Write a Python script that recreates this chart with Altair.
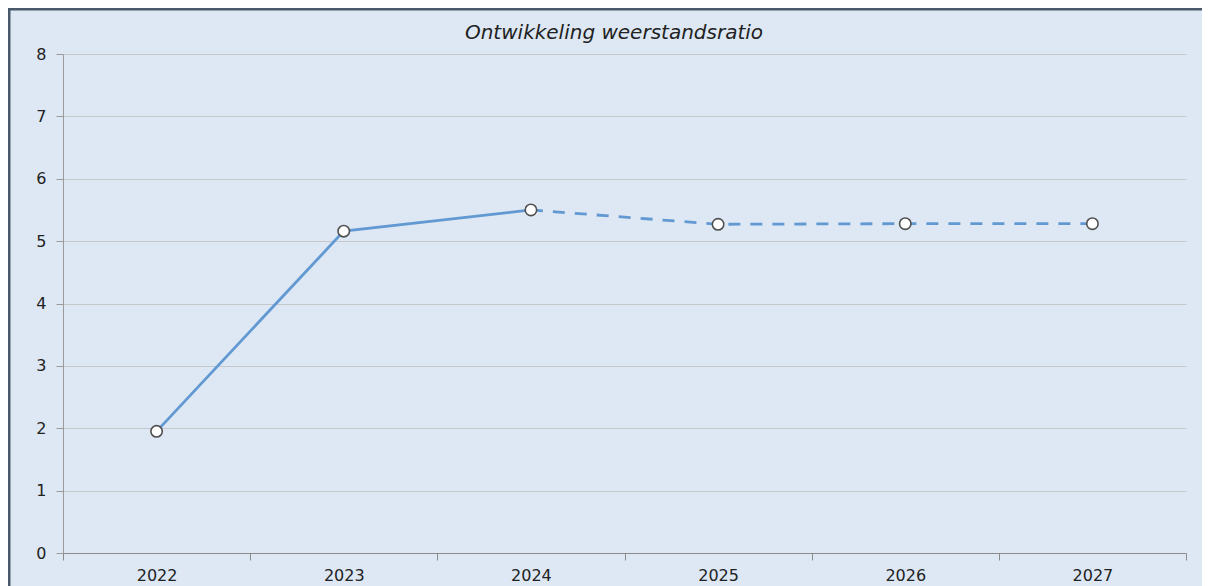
import altair as alt
import pandas as pd

years = ["2022", "2023", "2024", "2025", "2026", "2027"]
values = [1.95, 5.16, 5.50, 5.27, 5.28, 5.28]
actual_years = ["2022", "2023", "2024"]
forecast_years = ["2024", "2025", "2026", "2027"]
title_text = ["Ontwikkeling weerstandsratio"]

df = pd.DataFrame({"jaar": years, "ratio": values})
df_actual = df[df["jaar"].isin(actual_years)]
df_forecast = df[df["jaar"].isin(forecast_years)]
df_title = pd.DataFrame({"t": title_text})

LINE = "#6299d2"
BG = "#dde8f4"
BORDER = "#4a586b"
FONT = "DejaVu Sans"

x_enc = alt.X(
    "jaar:O",
    sort=years,
    scale=alt.Scale(type="band", paddingInner=0, paddingOuter=0),
    axis=alt.Axis(
        title=None, labelAngle=0, tickBand="extent", grid=False,
        domainColor="#8c8c8c", tickColor="#8c8c8c", tickSize=7,
        labelFontSize=16, labelColor="#222", labelPadding=7,
        labelFont=FONT,
    ),
)
y_enc = alt.Y(
    "ratio:Q",
    scale=alt.Scale(domain=[0, 8], nice=False),
    axis=alt.Axis(
        title=None, values=list(range(0, 9)), grid=True, gridColor="#c4c8cc",
        domainColor="#9a9a9a", tickColor="#9a9a9a", tickSize=7,
        labelFontSize=16, labelColor="#222", labelPadding=10,
        labelFont=FONT,
    ),
)

solid = alt.Chart(df_actual).mark_line(color=LINE, strokeWidth=2.8).encode(x=x_enc, y=y_enc)
dashed = alt.Chart(df_forecast).mark_line(
    color=LINE, strokeWidth=2.8, strokeDash=[12, 10]
).encode(x=x_enc, y=y_enc)
points = alt.Chart(df).mark_point(
    filled=True, fill="white", stroke="#505050", strokeWidth=1.6, size=130, opacity=1
).encode(x=x_enc, y=y_enc)

title = alt.Chart(df_title).mark_text(
    font=FONT, fontSize=20, fontStyle="italic", color="#222",
    align="center", baseline="alphabetic",
).encode(text="t:N", x=alt.value(551), y=alt.value(-15))

left_border = alt.Chart(df_title).mark_rule(color=BORDER, strokeWidth=5).encode(
    x=alt.value(-55), y=alt.value(-46), y2=alt.value(600)
)
top_border = alt.Chart(df_title).mark_rule(color=BORDER, strokeWidth=5).encode(
    y=alt.value(-46), x=alt.value(-55), x2=alt.value(1200)
)

chart = alt.layer(solid, dashed, points, title, left_border, top_border).properties(
    width=1123,
    height=499,
    autosize=alt.AutoSizeParams(type="none"),
    padding={"left": 55, "top": 46, "right": 16, "bottom": 40},
    background=BG,
).configure_view(stroke=None)

chart.save("out.html", embed_options={"renderer": "svg", "actions": False})
